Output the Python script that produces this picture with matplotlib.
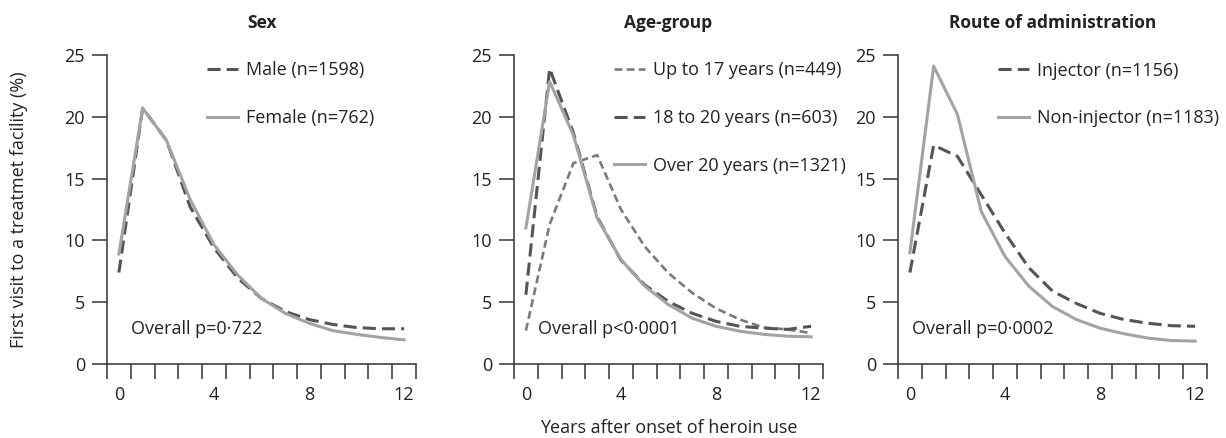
import matplotlib
matplotlib.use("Agg")
import matplotlib.pyplot as plt
import numpy as np

plt.rcParams['font.family'] = ['Open Sans', 'DejaVu Sans']

years = list(range(0, 13))

# Sex
male = [7.4, 20.7, 18.1, 12.7, 9.4, 6.95, 5.3, 4.25, 3.6, 3.2, 2.95, 2.85, 2.85]
female = [8.9, 20.7, 18.1, 13.3, 9.65, 7.2, 5.3, 4.1, 3.3, 2.7, 2.4, 2.15, 1.95]

# Age group
up17 = [2.7, 11.3, 16.25, 16.9, 12.5, 9.5, 7.35, 5.75, 4.5, 3.6, 2.95, 2.8, 2.5]
age18_20 = [5.6, 23.9, 18.7, 11.9, 8.4, 6.4, 5.05, 4.1, 3.45, 3.05, 2.9, 2.8, 3.05]
over20 = [11.0, 22.85, 18.5, 11.8, 8.45, 6.3, 4.8, 3.7, 3.05, 2.65, 2.4, 2.25, 2.2]

# Route of administration
injector = [7.4, 17.7, 16.8, 13.7, 10.6, 7.8, 5.9, 4.9, 4.1, 3.6, 3.3, 3.1, 3.05]
noninjector = [9.0, 24.1, 20.2, 12.35, 8.7, 6.3, 4.65, 3.6, 2.9, 2.45, 2.1, 1.9, 1.85]

titles = ["Sex", "Age-group", "Route of administration"]
pvals = ["Overall p=0·722", "Overall p<0·0001", "Overall p=0·0002"]
pval_x = [0.5, 0.5, 0.1]

DARK = "#555555"
LIGHT = "#a3a3a3"
MID = "#7a7a7a"
AXC = "#333333"

dash_style = (0, (4.3, 2.0))
short_dash = (0, (3.0, 1.6))

series = [
    [(male, "Male (n=1598)", DARK, dash_style, 2.2),
     (female, "Female (n=762)", LIGHT, "-", 2.2)],
    [(up17, "Up to 17 years (n=449)", MID, short_dash, 1.9),
     (age18_20, "18 to 20 years (n=603)", DARK, dash_style, 2.2),
     (over20, "Over 20 years (n=1321)", LIGHT, "-", 2.2)],
    [(injector, "Injector (n=1156)", DARK, dash_style, 2.2),
     (noninjector, "Non-injector (n=1183)", LIGHT, "-", 2.2)],
]

W, H = 1226, 438
fig = plt.figure(figsize=(W / 100, H / 100), dpi=100)

lefts = [107, 514, 898]
legend_x = [207, 614, 998]
ax_w = 309
ax_bottom = 364
ax_top = 55

FS = 13
for i in range(3):
    ax = fig.add_axes([lefts[i] / W, (H - ax_bottom) / H, ax_w / W, (ax_bottom - ax_top) / H])
    for vals, lab, col, ls, lw in series[i]:
        ax.plot(years, vals, color=col, linestyle=ls, linewidth=lw, label=lab)
    ax.set_xlim(-0.5, 12.5)
    ax.set_ylim(0, 25)
    ax.spines['top'].set_visible(False)
    ax.spines['right'].set_visible(False)
    for s in ['left', 'bottom']:
        ax.spines[s].set_color(AXC)
        ax.spines[s].set_linewidth(1.1)
    ax.set_yticks([0, 5, 10, 15, 20, 25])
    ax.tick_params(axis='y', direction='out', length=10.8, width=1.1, color=AXC,
                   labelsize=FS, pad=5, labelcolor="#222222")
    ax.set_xticks([0, 4, 8, 12])
    ax.set_xticks(np.arange(-0.5, 13.0, 1.0), minor=True)
    ax.tick_params(axis='x', which='major', length=0, labelsize=FS, pad=16, labelcolor="#222222")
    ax.tick_params(axis='x', which='minor', direction='out', length=10.8, width=1.1, color=AXC)
    ax.patch.set_alpha(0)
    ax.text(0.5, (ax_bottom - 23) / (ax_bottom - ax_top), titles[i], transform=ax.transAxes,
            ha='center', va='center', fontsize=12.5, fontweight='bold', color="#222222")
    ax.text(pval_x[i], 2.8, pvals[i], ha='left', va='center', fontsize=FS, color="#222222")
    lx = (legend_x[i] - lefts[i]) / ax_w
    leg = ax.legend(loc='upper left', bbox_to_anchor=(lx, (ax_bottom - 61.5) / (ax_bottom - ax_top)),
                    frameon=False, fontsize=FS, handlelength=1.72, handletextpad=0.42,
                    labelspacing=1.64, borderpad=0, borderaxespad=0)
    for t in leg.get_texts():
        t.set_color("#222222")
    if i == 0:
        ax.set_ylabel("First visit to a treatmet facility (%)", fontsize=FS, color="#222222")
        ax.yaxis.set_label_coords((19 - lefts[0]) / ax_w, 0.5)
        ax.yaxis.label.set_va('center')
    if i == 1:
        ax.set_xlabel("Years after onset of heroin use", fontsize=FS, color="#222222")
        ax.xaxis.set_label_coords(0.5, -(428 - ax_bottom) / (ax_bottom - ax_top))
        ax.xaxis.label.set_va('center')

fig.savefig("out.png", dpi=100)
